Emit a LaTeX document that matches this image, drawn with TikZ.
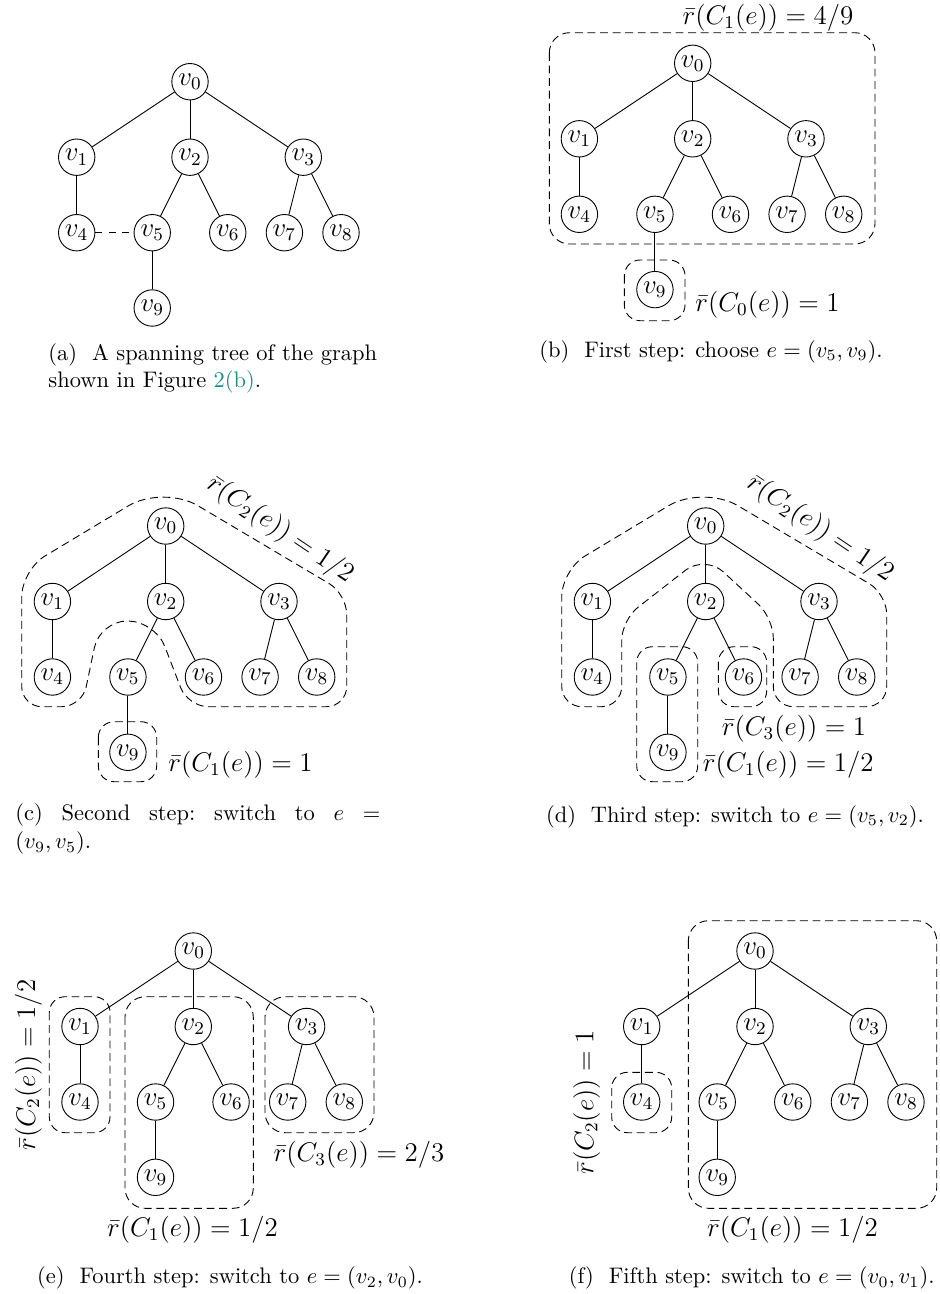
\documentclass[tikz,border=0pt]{standalone}
\usepackage{xcolor}
\definecolor{linkteal}{RGB}{30,140,138}
\tikzset{
  vtx/.style={circle,draw,minimum size=16.2pt,inner sep=0pt,font=\fontsize{12}{14}\selectfont},
  regiondash/.style={draw,dash pattern=on 3.5pt off 2.1pt},
  region/.style={regiondash,rounded corners=9pt},
  smallregion/.style={regiondash,rounded corners=7pt},
  lab/.style={font=\large,inner sep=0pt},
  captxt/.style={font=\normalsize,inner sep=0pt},
}
\newcommand\drawtree[3]{%
  \begin{scope}[shift={(#2,#3)}]
    \node[vtx] (#10) at (0,0) {$v_0$};
    \node[vtx] (#11) at (-113.3,75.5) {$v_1$};
    \node[vtx] (#12) at (0,75.5) {$v_2$};
    \node[vtx] (#13) at (113.3,75.5) {$v_3$};
    \node[vtx] (#14) at (-113.3,151) {$v_4$};
    \node[vtx] (#15) at (-37.77,151) {$v_5$};
    \node[vtx] (#16) at (37.77,151) {$v_6$};
    \node[vtx] (#17) at (94.4,151) {$v_7$};
    \node[vtx] (#18) at (151,151) {$v_8$};
    \node[vtx] (#19) at (-37.77,226.3) {$v_9$};
  \end{scope}
  \draw (#10) -- (#11);
  \draw (#10) -- (#12);
  \draw (#10) -- (#13);
  \draw (#11) -- (#14);
  \draw (#12) -- (#15);
  \draw (#12) -- (#16);
  \draw (#13) -- (#17);
  \draw (#13) -- (#18);
  \draw (#15) -- (#19);
}
\begin{document}
\begin{tikzpicture}[x=0.445pt,y=-0.445pt]
\useasboundingbox (0,0) rectangle (940,1294);

% ---------- (a)
\drawtree{a}{190}{81.7}
\draw[dashed] (a4) -- (a5);
\node[captxt,anchor=north west,align=left] (capa) at (48,343)
  {(a)\ \ A spanning tree of the graph\\shown in Figure \textcolor{linkteal}{2(b)}.};

% ---------- (b)
\drawtree{b}{692.7}{63.3}
\draw[region] (549.3,32.7) rectangle (875,244);
\draw[smallregion] (624.3,260) rectangle (685,320.7);
\node[lab] (lb1) at (768,18) {$\bar r(C_1(e))=4/9$};
\node[lab] (lb0) at (767.5,305) {$\bar r(C_0(e))=1$};
\node[captxt] (capb) at (711,351.7) {(b)\ \ First step: choose $e=(v_5,v_9)$.};

% ---------- (c)
\drawtree{c}{165.7}{526}
\draw[regiondash] (21.7,650) [rounded corners=9pt] -- (21.7,706.7) -- (82,706.7)
  [rounded corners=12pt] -- (100,621) -- (155,621)
  [rounded corners=9pt] -- (188,706.7) -- (346.7,706.7) -- (346.7,594)
  [rounded corners=18pt] -- (163,485)
  [rounded corners=12pt] -- (21.7,570)
  [rounded corners=9pt] -- cycle;
\draw[smallregion] (98.3,721.7) rectangle (156.7,781.7);
\node[lab,rotate=-34] (lc2) at (280,530) {$\bar r(C_2(e))=1/2$};
\node[lab] (lc1) at (240.5,765) {$\bar r(C_1(e))=1$};
\node[captxt,anchor=west] (capc1) at (15,815)
  {\hbox to 162.4pt{(c)\hfill Second\hfill step:\hfill switch\hfill to\hfill $e$\hfill $=$}};
\node[captxt,anchor=west] (capc2) at (15,843) {$(v_9,v_5)$.};

% ---------- (d)
\drawtree{d}{705.7}{526}
\draw[regiondash] (561.7,650) [rounded corners=9pt] -- (561.7,706.7) -- (621.7,706.7) -- (621.7,620)
  [rounded corners=11pt] -- (705,555)
  [rounded corners=9pt] -- (773.3,618) -- (773.3,706.7) -- (886.7,706.7) -- (886.7,594)
  [rounded corners=18pt] -- (703,485)
  [rounded corners=12pt] -- (561.7,570)
  [rounded corners=9pt] -- cycle;
\draw[smallregion] (718.3,646.7) rectangle (766.7,706.7);
\draw[smallregion] (636.7,646.7) rectangle (697.7,781.7);
\node[lab,rotate=-34] (ld2) at (820,529) {$\bar r(C_2(e))=1/2$};
\node[lab] (ld3) at (794,728.3) {$\bar r(C_3(e))=1$};
\node[lab] (ld1) at (788.3,765) {$\bar r(C_1(e))=1/2$};
\node[captxt] (capd) at (735,816.7) {(d)\ \ Third step: switch to $e=(v_5,v_2)$.};

% ---------- (e)
\drawtree{e}{193.3}{951}
\draw[smallregion] (49.3,996.7) rectangle (110,1132.7);
\draw[region] (125,996.7) rectangle (253.3,1208.3);
\draw[region] (265,996.7) rectangle (374,1132.7);
\node[lab,rotate=90] (le2) at (28.3,1065) {$\bar r(C_2(e))=1/2$};
\node[lab] (le3) at (359,1155) {$\bar r(C_3(e))=2/3$};
\node[lab] (le1) at (192.5,1230) {$\bar r(C_1(e))=1/2$};
\node[captxt] (cape) at (230,1278.3) {(e)\ \ Fourth step: switch to $e=(v_2,v_0)$.};

% ---------- (f)
\drawtree{f}{755}{951}
\draw[region] (688.3,920.7) rectangle (936.7,1208.3);
\draw[smallregion] (611.7,1072.3) rectangle (671.7,1132.7);
\node[lab,rotate=90] (lf2) at (586.7,1102.5) {$\bar r(C_2(e))=1$};
\node[lab] (lf1) at (792.5,1230) {$\bar r(C_1(e))=1/2$};
\node[captxt] (capf) at (751.7,1278.3) {(f)\ \ Fifth step: switch to $e=(v_0,v_1)$.};
\end{tikzpicture}
\end{document}
